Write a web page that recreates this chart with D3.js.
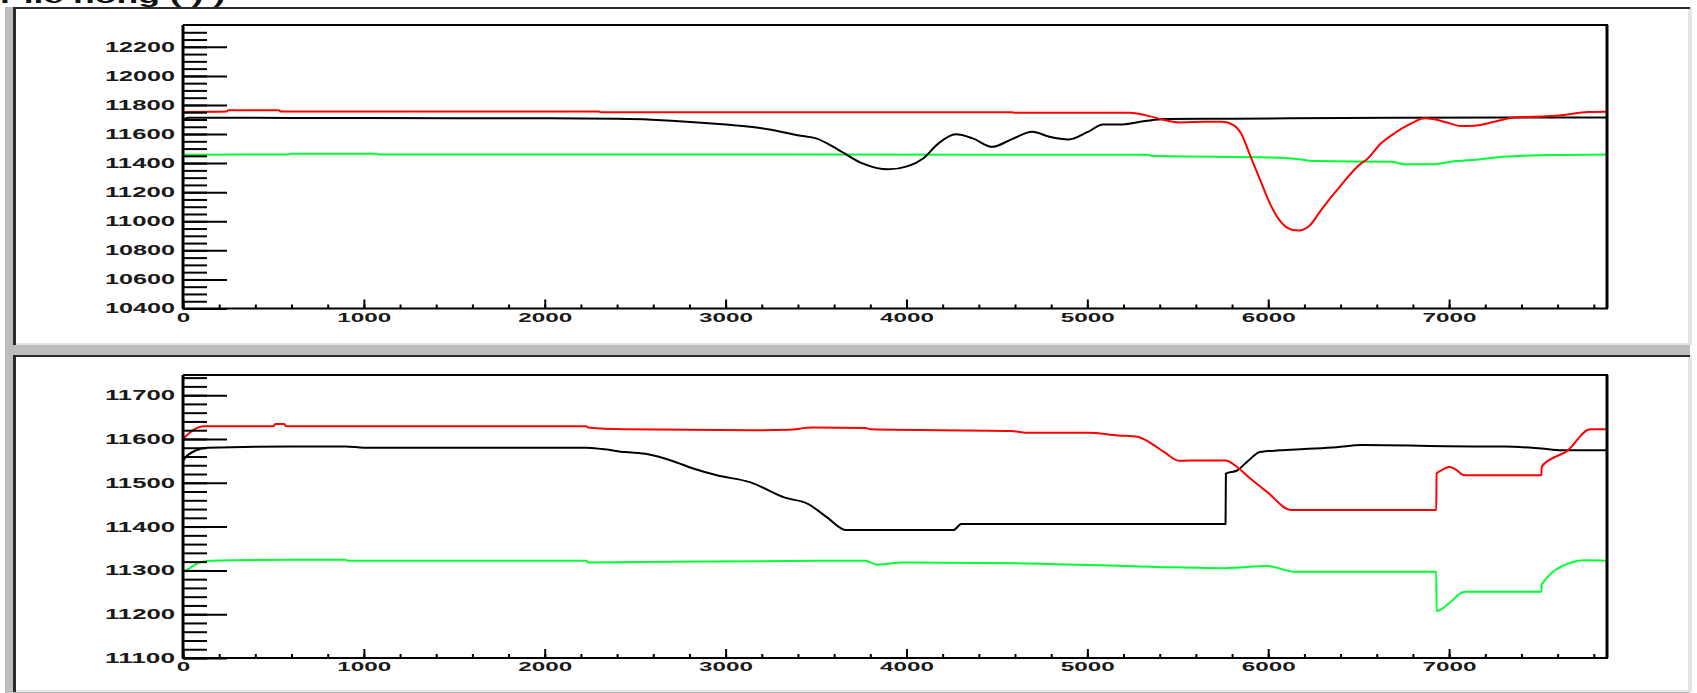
<!DOCTYPE html>
<html>
<head>
<meta charset="utf-8">
<script src="https://cdn.jsdelivr.net/npm/d3@7"></script>
<style>
  html, body { margin: 0; padding: 0; background: #fff; }
  svg { display: block; }
  .tick text { font-family: "Liberation Sans", Arial, sans-serif; font-weight: bold; fill: #1a1a1a; }
</style>
</head>
<body>
<div id="chart"></div>
<script>
// ---- data ----
const xTicks = [0, 1000, 2000, 3000, 4000, 5000, 6000, 7000];
const xMax = 7873;
const topYTicks = [10400, 10600, 10800, 11000, 11200, 11400, 11600, 11800, 12000, 12200];
const bottomYTicks = [11100, 11200, 11300, 11400, 11500, 11600, 11700];

const topBlack = [[0,11700],[30,11712],[300,11712],[600,11710],[1000,11710],[1500,11708],[2000,11708],
  [2400,11705],[2700,11692],[3000,11665],[3200,11640],[3415,11588],[3500,11570],[3626,11490],[3753,11400],
  [3900,11357],[4008,11379],[4092,11432],[4177,11536],[4273,11598],[4367,11570],[4474,11512],[4580,11563],
  [4696,11615],[4791,11581],[4897,11563],[5003,11615],[5087,11665],[5194,11666],[5320,11689],[5430,11703],
  [5800,11706],[6700,11712],[7873,11714]];
const topRed = [[0,11752],[240,11755],[250,11763],[530,11763],[540,11755],[2300,11755],[2310,11750],
  [4580,11750],[4600,11746],[5235,11746],[5320,11730],[5427,11696],[5511,11680],[5640,11684],[5744,11684],
  [5808,11661],[5850,11604],[5903,11443],[5956,11283],[6009,11123],[6062,11008],[6126,10944],[6168,10937],
  [6231,10973],[6292,11077],[6403,11249],[6514,11398],[6541,11421],[6624,11536],[6697,11604],[6791,11673],
  [6863,11708],[6919,11701],[6993,11677],[7067,11655],[7139,11657],[7250,11684],[7360,11714],[7471,11719],
  [7620,11730],[7770,11751],[7873,11753]];
const topGreen = [[0,11458],[580,11460],[600,11464],[1070,11464],[1080,11460],[5340,11458],[5350,11450],
  [6062,11437],[6182,11425],[6255,11414],[6680,11409],[6752,11393],[6919,11393],[7012,11409],[7160,11425],
  [7300,11443],[7543,11455],[7873,11460]];

const bottomBlack = [[0,11550],[12,11557],[72,11574],[135,11580],[600,11583],[900,11583],[1000,11580],
  [2230,11580],[2316,11577],[2444,11570],[2571,11565],[2698,11551],[2825,11532],[2952,11517],[3138,11501],
  [3328,11466],[3455,11452],[3561,11421],[3667,11392],[4260,11392],[4303,11406],[5764,11406],[5766,11521],
  [5828,11528],[5891,11551],[5954,11570],[6062,11574],[6200,11577],[6378,11581],[6514,11586],[7159,11583],
  [7306,11583],[7510,11578],[7621,11574],[7873,11574]];
const bottomRed = [[0,11600],[12,11605],[82,11626],[120,11629],[500,11629],[510,11634],[560,11634],
  [570,11629],[2230,11629],[2240,11626],[2444,11622],[3138,11620],[3348,11621],[3475,11626],[3773,11625],
  [3800,11622],[4577,11618],[4682,11614],[5002,11614],[5169,11608],[5277,11605],[5341,11593],[5425,11570],
  [5510,11550],[5573,11551],[5764,11551],[5828,11536],[5891,11513],[5997,11478],[6124,11438],[6929,11438],
  [6931,11521],[6956,11528],[7002,11536],[7030,11532],[7085,11517],[7510,11517],[7512,11537],[7657,11574],
  [7780,11622],[7873,11622]];
const bottomGreen = [[0,11297],[12,11299],[92,11318],[156,11322],[600,11324],[900,11324],[910,11322],
  [2230,11322],[2240,11318],[3500,11322],[3773,11322],[3837,11313],[3985,11318],[4662,11316],[5383,11308],
  [5764,11305],[5997,11310],[6145,11297],[6929,11297],[6931,11207],[7000,11225],[7085,11251],[7510,11251],
  [7512,11268],[7676,11318],[7748,11323],[7873,11322]];

const width = 1697, height = 693;
const svg = d3.select("#chart").append("svg")
    .attr("width", width)
    .attr("height", height);

// caption line that the screenshot cuts off at the top edge
svg.append("text")
    .attr("x", 0).attr("y", 3)
    .attr("font-family", "Liberation Sans, Arial, sans-serif")
    .attr("font-weight", "bold")
    .attr("font-size", 20)
    .attr("fill", "#111")
    .attr("textLength", 225)
    .attr("lengthAdjust", "spacingAndGlyphs")
    .text("r  lle  nong  (  )  )");

// canvas grey and the two sunken pads
svg.append("rect").attr("x", 5).attr("y", 7).attr("width", 1685).attr("height", 686).attr("fill", "#bdbdbd");

function drawPad(y0, y1) {
  svg.append("rect").attr("x", 13).attr("y", y0).attr("width", 1679).attr("height", y1 - y0).attr("fill", "#e4e4e4");
  svg.append("rect").attr("x", 16).attr("y", y0 + 2).attr("width", 1672).attr("height", y1 - y0 - 4).attr("fill", "#fff");
  svg.append("rect").attr("x", 13).attr("y", y0).attr("width", 1677).attr("height", 2).attr("fill", "#2a2a2a");
  svg.append("rect").attr("x", 13).attr("y", y0).attr("width", 3).attr("height", y1 - y0).attr("fill", "#2a2a2a");
}
drawPad(7, 345);
drawPad(355, 692);

function drawPanel(cfg, series) {
  const x = d3.scaleLinear().domain([0, xMax]).range([183, 1607]);
  const y = d3.scaleLinear().domain(cfg.yDomain).range([cfg.bottom, cfg.top]);
  const g = svg.append("g");

  // data
  const line = d3.line().curve(d3.curveMonotoneX).x(d => x(d[0])).y(d => y(d[1]));
  series.forEach(s => {
    g.append("path")
      .datum(s.data)
      .attr("d", line)
      .attr("fill", "none")
      .attr("stroke", s.color)
      .attr("stroke-width", 2)
      .attr("stroke-linejoin", "round");
  });

  // y minor ticks (inward)
  const yMinor = d3.range(cfg.yDomain[0], cfg.yDomain[1], cfg.minor);
  g.append("g").attr("transform", "translate(183,0)")
    .call(d3.axisLeft(y).tickValues(yMinor).tickSize(-24).tickFormat(""));
  // y major ticks + labels
  const ya = g.append("g").attr("transform", "translate(183,0)")
    .call(d3.axisLeft(y).tickValues(cfg.yTicks).tickSize(-44).tickPadding(8).tickFormat(d3.format("d")));
  ya.selectAll(".tick text")
    .attr("font-size", 14)
    .attr("textLength", d => String(d).length * 14)
    .attr("lengthAdjust", "spacingAndGlyphs");

  // x minor + major ticks
  g.append("g").attr("transform", `translate(0,${cfg.bottom})`)
    .call(d3.axisBottom(x).tickValues(d3.range(0, xMax, 200)).tickSize(-4).tickFormat(""));
  const xa = g.append("g").attr("transform", `translate(0,${cfg.bottom})`)
    .call(d3.axisBottom(x).tickValues(xTicks).tickSize(-9).tickPadding(4).tickFormat(d3.format("d")));
  xa.selectAll(".tick text")
    .attr("font-size", 13)
    .attr("textLength", d => String(d).length * 13.5)
    .attr("lengthAdjust", "spacingAndGlyphs");

  g.selectAll(".domain").remove();
  g.selectAll(".tick line").attr("stroke", "#000").attr("stroke-width", 2);

  // frame
  g.append("line").attr("x1", 183).attr("x2", 1608).attr("y1", cfg.top).attr("y2", cfg.top)
    .attr("stroke", "#000").attr("stroke-width", 2);
  g.append("line").attr("x1", 1607).attr("x2", 1607).attr("y1", cfg.top).attr("y2", cfg.bottom)
    .attr("stroke", "#000").attr("stroke-width", 3);
  g.append("line").attr("x1", 183).attr("x2", 183).attr("y1", cfg.top).attr("y2", cfg.bottom)
    .attr("stroke", "#000").attr("stroke-width", 3);
  g.append("line").attr("x1", 182).attr("x2", 1608).attr("y1", cfg.bottom).attr("y2", cfg.bottom)
    .attr("stroke", "#000").attr("stroke-width", 2);
}

drawPanel({ top: 25, bottom: 308.5, yDomain: [10400, 12350], yTicks: topYTicks, minor: 50 }, [
  { data: topGreen, color: "#00ff33" },
  { data: topBlack, color: "#000" },
  { data: topRed, color: "#ff0000" }
]);

drawPanel({ top: 375, bottom: 658, yDomain: [11100, 11746], yTicks: bottomYTicks, minor: 20 }, [
  { data: bottomGreen, color: "#00ff33" },
  { data: bottomBlack, color: "#000" },
  { data: bottomRed, color: "#ff0000" }
]);
</script>
</body>
</html>
